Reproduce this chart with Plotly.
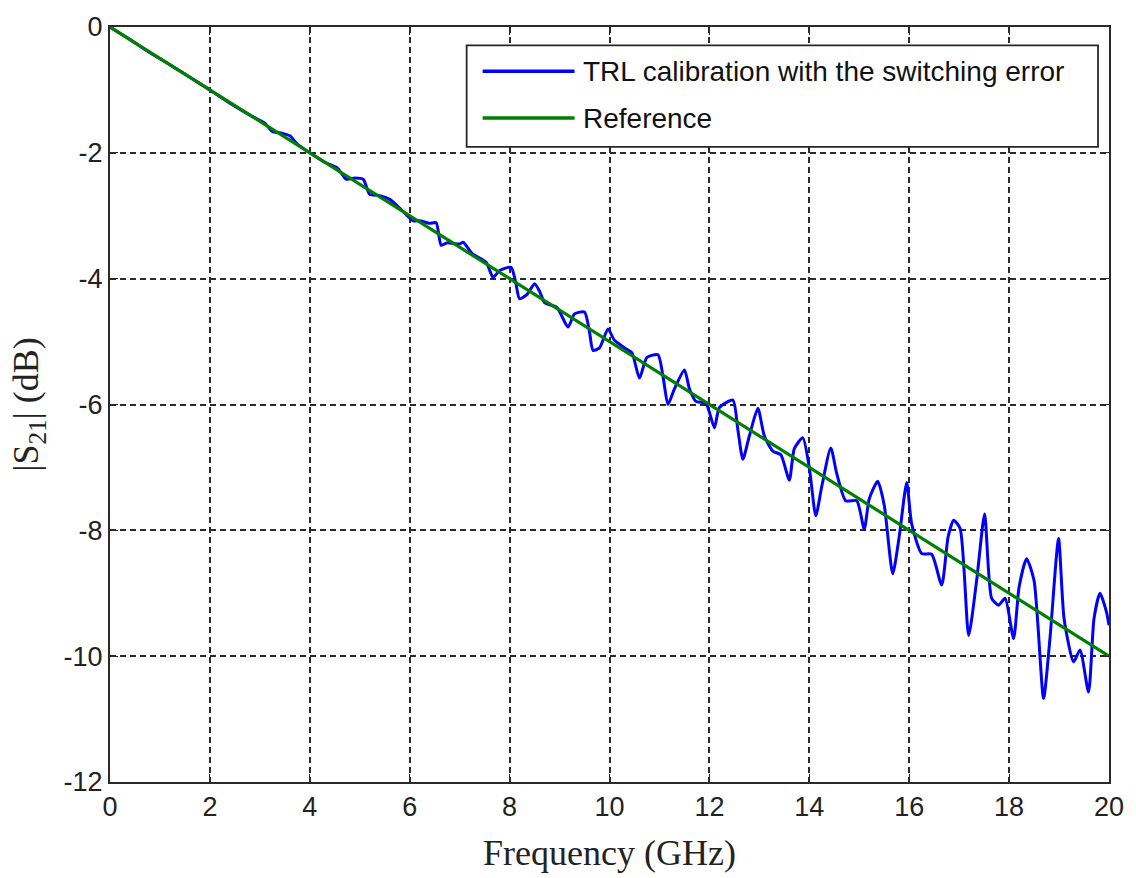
import plotly.graph_objects as go

# Frequency axis (GHz) and measured |S21| (dB)
trl_freq = [0.0, 0.4, 0.8, 1.2, 1.6, 2.0, 2.4, 2.8, 3.1, 3.25, 3.45, 3.6, 3.75, 4.0,
            4.3, 4.55, 4.73, 4.9, 5.07, 5.2, 5.4, 5.6, 5.8, 6.07, 6.2, 6.4, 6.53, 6.63,
            6.75, 7.0, 7.07, 7.25, 7.53, 7.67, 7.8, 8.03, 8.12, 8.2, 8.35, 8.5, 8.6, 8.7,
            8.95, 9.17, 9.3, 9.5, 9.6, 9.67, 9.8, 9.97, 10.1, 10.3, 10.45, 10.6, 10.75,
            10.97, 11.08, 11.17, 11.3, 11.5, 11.6, 11.73, 11.93, 12.1, 12.2, 12.47, 12.57,
            12.67, 12.8, 12.97, 13.1, 13.27, 13.43, 13.6, 13.7, 13.87, 14.0, 14.13, 14.25,
            14.43, 14.55, 14.73, 14.95, 15.1, 15.2, 15.37, 15.5, 15.67, 15.8, 15.95, 16.05,
            16.25, 16.45, 16.65, 16.78, 16.89, 17.02, 17.19, 17.35, 17.51, 17.65, 17.79,
            17.92, 18.09, 18.2, 18.35, 18.5, 18.69, 18.82, 18.99, 19.1, 19.29, 19.42,
            19.59, 19.7, 19.82, 19.95, 20.0]
trl_s21 = [0.0, -0.2, -0.41, -0.6, -0.8, -1.0, -1.21, -1.4, -1.53, -1.66, -1.69, -1.73,
           -1.86, -2.0, -2.15, -2.24, -2.42, -2.4, -2.42, -2.66, -2.68, -2.74, -2.88,
           -3.08, -3.08, -3.12, -3.11, -3.47, -3.43, -3.45, -3.42, -3.6, -3.74, -3.98,
           -3.87, -3.82, -4.05, -4.32, -4.25, -4.08, -4.2, -4.38, -4.46, -4.77, -4.56,
           -4.53, -4.85, -5.14, -5.1, -4.8, -4.98, -5.1, -5.18, -5.58, -5.25, -5.21,
           -5.6, -6.0, -5.75, -5.45, -5.75, -5.95, -5.98, -6.37, -6.05, -5.93, -6.4,
           -6.87, -6.5, -6.06, -6.5, -6.74, -6.8, -7.2, -6.7, -6.53, -7.0, -7.77, -7.3,
           -6.69, -7.1, -7.53, -7.53, -7.98, -7.5, -7.22, -7.6, -8.69, -8.1, -7.24,
           -7.9, -8.37, -8.38, -8.87, -8.1, -7.84, -7.97, -9.67, -8.8, -7.74, -9.08,
           -9.19, -9.08, -9.72, -8.9, -8.45, -8.8, -10.67, -9.7, -8.13, -9.4, -10.09,
           -9.9, -10.57, -9.4, -9.0, -9.3, -9.51]

ref_freq = [0, 1, 2, 3, 4, 5, 6, 7, 8, 9, 10, 11, 12, 13, 14, 15, 16, 17, 18, 19, 20]
ref_s21 = [0.0, -0.5, -1.0, -1.5, -2.0, -2.5, -3.0, -3.5, -4.0, -4.5, -5.0, -5.5,
           -6.0, -6.5, -7.0, -7.5, -8.0, -8.5, -9.0, -9.5, -10.0]

x_ticks = [0, 2, 4, 6, 8, 10, 12, 14, 16, 18, 20]
y_ticks = [0, -2, -4, -6, -8, -10, -12]

legend_labels = ["TRL calibration with the switching error", "Reference"]
blue = "#0000FF"
green = "#008000"

fig = go.Figure()
fig.add_trace(go.Scatter(x=trl_freq, y=trl_s21, mode="lines", name=legend_labels[0],
                         line=dict(color=blue, width=3, shape="spline", smoothing=0.6)))
fig.add_trace(go.Scatter(x=ref_freq, y=ref_s21, mode="lines", name=legend_labels[1],
                         line=dict(color=green, width=3.2)))

axis_common = dict(
    showline=True, linecolor="#2a2a2a", linewidth=2, mirror="ticks",
    ticks="inside", ticklen=8, tickcolor="#2a2a2a",
    showgrid=True, gridcolor="#2a2a2a", gridwidth=1.6, griddash="6px,4px",
    zeroline=False,
    tickfont=dict(family="Liberation Sans, Arial", size=27, color="#222222"),
)

fig.update_xaxes(range=[0, 20], tickvals=x_ticks, ticktext=[str(v) for v in x_ticks],
                 title=dict(text="Frequency (GHz)", standoff=18,
                            font=dict(family="Liberation Serif, Times New Roman", size=36,
                                      color="#222222")),
                 **axis_common)
fig.update_yaxes(range=[-12, 0], tickvals=y_ticks, ticktext=[str(v) for v in y_ticks],
                 title=dict(text="|S<sub>21</sub>| (dB)", standoff=14,
                            font=dict(family="Liberation Serif, Times New Roman", size=36,
                                      color="#222222")),
                 **axis_common)

# Boxed legend in the upper right, drawn with long line samples
box_x0, box_x1, box_y0, box_y1 = 0.357, 0.989, 0.8412, 0.9756
row_y = [0.9414, 0.8794]
row_colors = [blue, green]
shapes = [dict(type="rect", xref="paper", yref="paper", x0=box_x0, x1=box_x1,
               y0=box_y0, y1=box_y1, fillcolor="white",
               line=dict(color="#262626", width=1.8), layer="above")]
annotations = []
for yy, col, lab in zip(row_y, row_colors, legend_labels):
    shapes.append(dict(type="line", xref="paper", yref="paper", x0=0.373, x1=0.465,
                       y0=yy, y1=yy, line=dict(color=col, width=3.5), layer="above"))
    annotations.append(dict(xref="paper", yref="paper", x=0.471, y=yy, text=lab,
                            showarrow=False, xanchor="left", yanchor="middle",
                            font=dict(family="Liberation Sans, Arial", size=28,
                                      color="#111111")))

fig.update_layout(
    width=1136, height=878,
    margin=dict(l=110, r=26, t=23, b=95),
    paper_bgcolor="white", plot_bgcolor="white",
    showlegend=False,
    shapes=shapes, annotations=annotations,
)

fig.write_html("out.html")
